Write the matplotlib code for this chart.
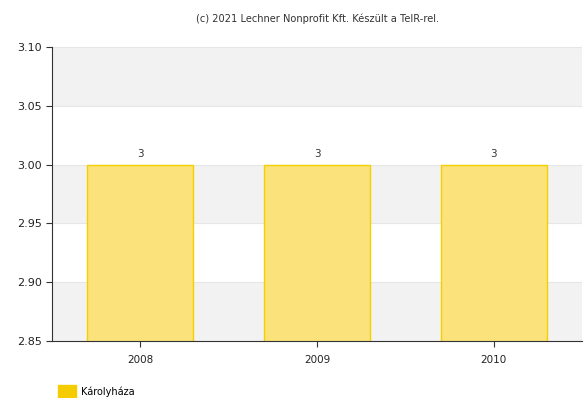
import matplotlib.pyplot as plt
import numpy as np
from matplotlib.patches import Patch

years = ['2008', '2009', '2010']
values = [3, 3, 3]
series_name = 'Károlyháza'

fig = plt.figure(figsize=(5.84, 3.98), dpi=100)
ax = fig.add_axes([0.089, 0.143, 0.908, 0.739])

x = np.arange(len(years))
ax.set_xlim(-0.5, len(years) - 0.5)
ax.set_ylim(2.85, 3.10)

# alternating bands
yt = np.arange(2.85, 3.101, 0.05)
for i in range(len(yt) - 1):
    if i % 2 == 0:
        ax.axhspan(yt[i], yt[i + 1], color='#f2f2f2', zorder=0, lw=0)
for y in yt:
    ax.axhline(y, color='#e6e6e6', lw=0.8, zorder=0.5)

bars = ax.bar(x, values, width=0.6, bottom=0, color='#fbe27a', edgecolor='#f5d000', lw=1, zorder=2)
for xi, v in zip(x, values):
    ax.text(xi, v + 0.005, str(v), ha='center', va='bottom', fontsize=7.5, color='#333333')

ax.set_xticks(x)
ax.set_xticklabels(years, fontsize=7.5, color='#222222')
ax.set_yticks(yt)
ax.set_yticklabels(['%.2f' % y for y in yt], fontsize=8, color='#222222')
ax.tick_params(axis='y', length=4, width=0.8, color='#333333')
ax.tick_params(axis='x', length=4, width=0.8, color='#333333', pad=6)

for s in ['top', 'right']:
    ax.spines[s].set_visible(False)
ax.spines['left'].set_color('#333333')
ax.spines['bottom'].set_color('#333333')

fig.text(0.543, 0.953, '(c) 2021 Lechner Nonprofit Kft. Készült a TeIR-rel.', ha='center', va='center', fontsize=7.1, color='#333333')

fig.legend(handles=[Patch(facecolor='#f5cc00', edgecolor='#f5cc00')], labels=[series_name],
           loc='lower left', bbox_to_anchor=(0.085, -0.025), frameon=False, fontsize=7,
           handlelength=1.8, handleheight=1.8, handletextpad=0.5)

fig.savefig('out.png', dpi=100)
